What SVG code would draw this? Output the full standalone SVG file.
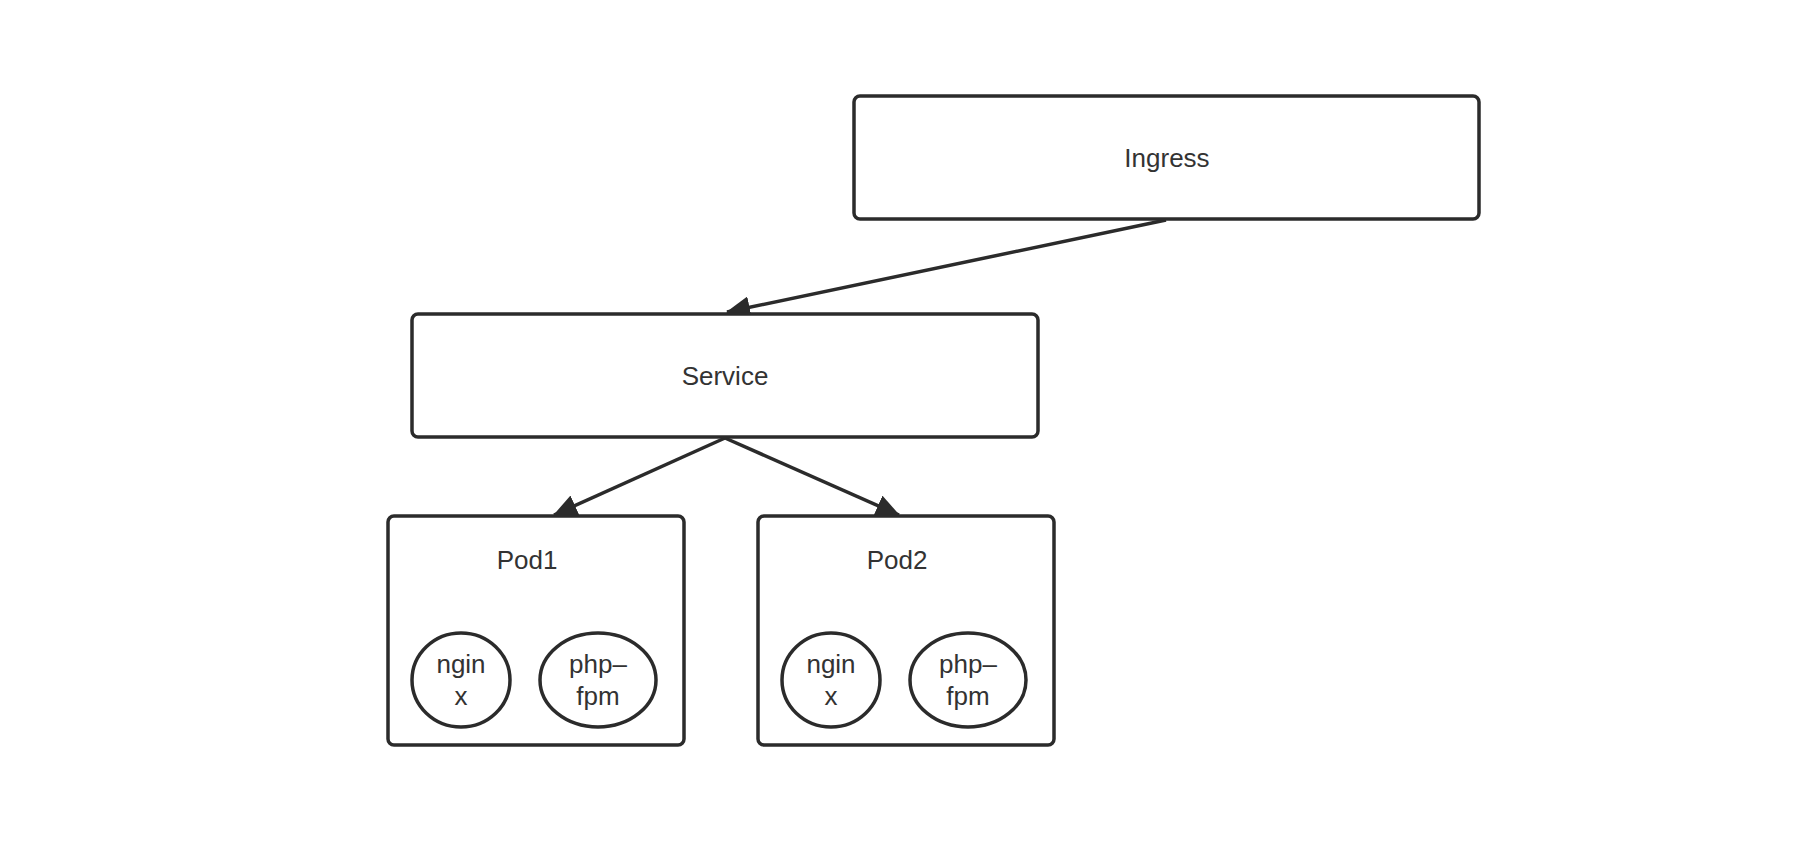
<svg xmlns="http://www.w3.org/2000/svg" width="1798" height="864" viewBox="0 0 1798 864">
<defs>
<style>
.box{fill:#ffffff;stroke:#2b2b2b;stroke-width:3.5}
.ell{fill:#ffffff;stroke:#2b2b2b;stroke-width:3.5}
.lbl{font-family:"Liberation Sans",Arial,sans-serif;font-size:26px;fill:#333333;text-anchor:middle}
.edge{fill:none;stroke:#2b2b2b;stroke-width:3.5}
</style>
<marker id="arr" viewBox="0 0 24 22" refX="23" refY="11" markerWidth="24" markerHeight="22" markerUnits="userSpaceOnUse" orient="auto">
<path d="M0,0 L24,11 L0,22 Z" fill="#2b2b2b"/>
</marker>
</defs>
<rect width="1798" height="864" fill="#ffffff"/>
<g id="connectors">
<line class="edge" x1="1166" y1="220" x2="727" y2="312" marker-end="url(#arr)"/>
<line class="edge" x1="725" y1="438" x2="554" y2="515" marker-end="url(#arr)"/>
<line class="edge" x1="725" y1="438" x2="899" y2="515" marker-end="url(#arr)"/>
</g>
<g id="ingress">
<rect class="box" x="854" y="96" width="625" height="123" rx="6"/>
<text class="lbl" x="1167" y="167">Ingress</text>
</g>
<g id="service">
<rect class="box" x="412" y="314" width="626" height="123" rx="6"/>
<text class="lbl" x="725" y="385">Service</text>
</g>
<g id="pod1">
<rect class="box" x="388" y="516" width="296" height="229" rx="6"/>
<text class="lbl" x="527" y="569">Pod1</text>
</g>
<g id="pod1-nginx">
<ellipse class="ell" cx="461" cy="680" rx="49" ry="47"/>
<text class="lbl" x="461" y="673">ngin</text>
<text class="lbl" x="461" y="705">x</text>
</g>
<g id="pod1-phpfpm">
<ellipse class="ell" cx="598" cy="680" rx="58" ry="47"/>
<text class="lbl" x="598" y="673">php–</text>
<text class="lbl" x="598" y="705">fpm</text>
</g>
<g id="pod2">
<rect class="box" x="758" y="516" width="296" height="229" rx="6"/>
<text class="lbl" x="897" y="569">Pod2</text>
</g>
<g id="pod2-nginx">
<ellipse class="ell" cx="831" cy="680" rx="49" ry="47"/>
<text class="lbl" x="831" y="673">ngin</text>
<text class="lbl" x="831" y="705">x</text>
</g>
<g id="pod2-phpfpm">
<ellipse class="ell" cx="968" cy="680" rx="58" ry="47"/>
<text class="lbl" x="968" y="673">php–</text>
<text class="lbl" x="968" y="705">fpm</text>
</g>
</svg>
